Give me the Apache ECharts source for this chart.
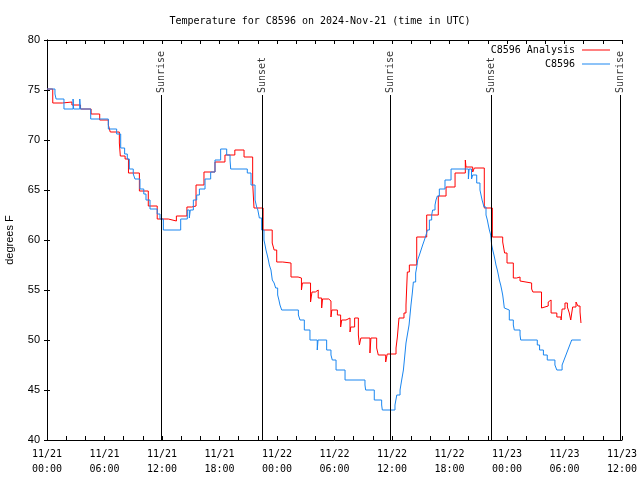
<!DOCTYPE html>
<html>
<head>
<meta charset="utf-8">
<script src="https://cdn.jsdelivr.net/npm/echarts@6/dist/echarts.min.js"></script>
<style>html,body{margin:0;padding:0;background:#fff}#c{width:640px;height:480px}</style>
</head>
<body>
<div id="c"></div>
<script>
// hours since 11/21 00:00 UTC
const xTickLabels = ['11/21\n00:00','11/21\n06:00','11/21\n12:00','11/21\n18:00','11/22\n00:00','11/22\n06:00','11/22\n12:00','11/22\n18:00','11/23\n00:00','11/23\n06:00','11/23\n12:00'];
const yTicks = [40,45,50,55,60,65,70,75,80];
const sunLabels = ['Sunrise','Sunset','Sunrise','Sunset','Sunrise'];
const sunHours = [11.9, 22.43, 35.79, 46.33, 59.79];

const analysisHours = [0,0.6,1.6,2.6,3.5,4.6,5.5,6.4,6.6,7.55,7.65,8.15,8.5,9.64,10.57,11.5,12.66,13.5,14.6,15.1,15.55,16.38,17.53,18.57,19.6,20.56,21.46,21.6,22.55,23.5,23.7,23.97,24.6,25.46,26.2,26.55,26.65,27.5,27.65,28.0,28.3,28.66,28.75,29.4,29.63,29.72,30.3,30.64,30.75,31.2,31.62,31.7,32.1,32.49,32.6,32.75,33.7,33.8,34.4,34.57,35.34,35.5,36.42,36.56,36.73,37.25,37.46,37.6,37.81,38.58,39.62,40.83,41.64,42.58,43.65,43.72,44.42,44.59,45.63,46.47,47.55,47.75,48.0,48.66,49.0,49.36,49.5,50.57,50.7,51.6,51.7,52.3,52.5,52.6,53.2,53.64,53.75,54.05,54.3,54.5,54.65,54.85,55.2,55.4,55.62,55.72,55.75];
const analysisTemps = [75.1,73.7,73.8,73.5,73.1,72.6,72.0,71.5,70.8,69.7,68.4,68.1,66.7,64.9,63.4,62.1,61.9,62.4,63.3,63.4,65.5,66.8,67.8,68.5,69.0,68.3,65.7,63.2,61.0,59.7,59.0,57.8,57.7,56.3,56.2,55.0,55.7,53.8,54.8,55.0,54.2,53.2,54.1,53.9,52.3,53.0,52.5,51.3,52.0,52.2,50.8,51.3,52.2,50.5,49.5,50.2,48.7,50.2,49.2,48.5,47.8,48.6,49.2,50.3,52.2,52.7,53.5,56.8,57.5,60.3,62.5,64.4,65.3,66.7,68.0,67.3,66.8,67.2,63.2,60.3,59.8,58.7,57.7,56.2,56.3,55.9,55.7,55.1,54.8,53.2,53.4,53.8,54.0,52.7,52.3,52.0,53.1,53.7,53.3,52.7,52.0,53.3,53.8,53.4,52.8,51.7,51.7];

const stationHours = [0,0.83,0.95,1.77,2.72,2.78,3.42,3.48,4.56,6.4,7.27,7.69,8.1,8.38,8.59,9.0,9.18,9.7,10.1,10.33,10.75,11.5,11.79,12.14,13.95,14.64,14.85,14.95,15.27,15.62,15.9,16.49,17.08,17.53,18.12,18.75,19.1,19.17,20.9,21.29,21.71,21.88,22.0,22.16,22.4,22.64,22.75,22.85,22.98,23.1,23.2,23.37,23.51,23.7,23.86,24.07,24.2,24.31,24.49,26.23,26.4,26.85,27.44,28.2,28.28,29.18,29.63,29.77,30.16,31.1,33.18,33.25,34.15,34.92,34.99,36.31,36.5,36.84,37.01,37.19,37.29,37.46,37.6,37.78,37.88,37.98,38.12,38.23,38.47,38.58,38.68,38.86,39.03,39.2,39.38,39.55,39.69,39.9,40.14,40.24,40.49,40.59,40.73,40.94,41.53,42.16,43.97,44.05,44.3,44.42,44.84,45.18,45.29,45.4,45.6,45.81,45.95,46.05,46.16,46.3,46.4,46.51,46.64,46.75,46.85,46.99,47.1,47.2,47.34,47.45,47.55,47.62,47.72,47.9,48.24,48.66,48.76,49.36,49.43,51.16,51.4,51.8,52.2,53.0,53.2,53.75,53.95,54.15,54.35,54.55,54.75,55.7];
const stationTemps = [75.1,74.6,74.1,73.1,74.1,73.1,74.1,73.1,72.1,71.1,70.6,69.2,68.6,68.1,67.1,66.6,66.1,65.1,64.6,64.0,63.1,62.6,62.1,61.0,62.1,63.0,62.2,63.0,64.0,64.5,65.1,66.1,66.8,68.0,69.1,68.5,68.0,67.1,66.7,65.5,64.0,63.3,63.0,62.2,61.0,60.0,59.5,59.0,58.5,58.0,57.5,57.0,56.0,55.7,55.2,54.5,54.0,53.5,53.0,52.5,52.0,51.0,50.0,49.0,50.0,49.0,48.5,48.0,47.0,46.0,45.5,45.0,44.0,43.5,43.0,43.5,44.5,45.0,46.0,47.0,48.0,49.7,50.5,51.5,52.5,53.5,54.7,55.8,56.7,57.3,58.0,58.5,59.0,59.5,60.0,60.5,61.0,62.0,62.5,63.0,63.5,64.0,64.4,65.1,66.0,67.1,66.1,67.1,66.1,66.5,65.7,65.0,64.5,64.0,63.3,62.5,62.0,61.5,61.0,60.5,59.5,59.0,58.5,58.0,57.5,57.0,56.5,56.0,55.5,55.0,54.5,54.0,53.2,53.0,52.0,51.5,51.0,50.5,50.0,49.5,49.0,48.5,48.0,47.5,47.0,47.5,48.0,48.5,49.0,49.5,50.0,50.0];

const mono = 'DejaVu Sans Mono';
const sans = 'Liberation Sans';
const chart = echarts.init(document.getElementById('c'), null, {renderer: 'canvas'});
const zip = (a, b) => a.map((v, i) => [v, b[i]]);

const axisLineStyle = {color: '#000', width: 1};
chart.setOption({
  animation: false,
  backgroundColor: '#fff',
  title: {
    text: 'Temperature for C8596 on 2024-Nov-21 (time in UTC)',
    left: 'center', top: 11,
    textStyle: {fontFamily: mono, fontSize: 10, fontWeight: 'normal', color: '#000'}
  },
  legend: [
    {data: ['C8596 Analysis'], right: 30, top: 45, padding: 0, icon: 'rect', itemWidth: 28, itemHeight: 1, align: 'right',
     textStyle: {fontFamily: mono, fontSize: 10, color: '#000', padding: [0, 2, 0, 0]}, selectedMode: false},
    {data: ['C8596'], right: 30, top: 59, padding: 0, icon: 'rect', itemWidth: 28, itemHeight: 1, align: 'right',
     textStyle: {fontFamily: mono, fontSize: 10, color: '#000', padding: [0, 2, 0, 0]}, selectedMode: false}
  ],
  grid: {left: 47, right: 18, top: 40, bottom: 40, containLabel: false, outerBoundsMode: 'none'},
  xAxis: [
    {type: 'value', min: 0, max: 60, interval: 6, position: 'bottom',
     axisLine: {show: true, lineStyle: axisLineStyle},
     axisTick: {show: true, inside: true, length: 4, lineStyle: {color: '#000'}},
     minorTick: {show: true, splitNumber: 3, length: 4, lineStyle: {color: '#000'}},
     splitLine: {show: false},
     axisLabel: {formatter: v => xTickLabels[Math.round(v / 6)], fontFamily: mono, fontSize: 10, color: '#000', lineHeight: 15, margin: 7}},
    {type: 'value', min: 0, max: 60, interval: 6, position: 'top',
     axisLine: {show: true, lineStyle: axisLineStyle},
     axisTick: {show: true, inside: true, length: 4, lineStyle: {color: '#000'}},
     minorTick: {show: true, splitNumber: 3, length: 4, lineStyle: {color: '#000'}},
     splitLine: {show: false}, axisLabel: {show: false}}
  ],
  yAxis: [
    {type: 'value', min: 40, max: 80, interval: 5, position: 'left',
     name: 'degrees F', nameLocation: 'middle', nameGap: 32, nameRotate: 90,
     nameTextStyle: {fontFamily: sans, fontSize: 11, color: '#000'},
     axisLine: {show: true, lineStyle: axisLineStyle},
     axisTick: {show: true, inside: true, length: 3, lineStyle: {color: '#000'}},
     splitLine: {show: false},
     axisLabel: {formatter: v => yTicks.includes(v) ? String(v) : '', fontFamily: sans, fontSize: 11, color: '#000', margin: 7}},
    {type: 'value', min: 40, max: 80, interval: 5, position: 'right',
     axisLine: {show: true, lineStyle: axisLineStyle},
     axisTick: {show: true, inside: true, length: 3, lineStyle: {color: '#000'}},
     splitLine: {show: false}, axisLabel: {show: false}}
  ],
  series: [
    {name: 'C8596 Analysis', type: 'line', step: 'end', data: zip(analysisHours, analysisTemps),
     showSymbol: false, symbol: 'none', color: '#ff0000', lineStyle: {width: 1, color: '#ff0000'}, z: 3},
    {name: 'C8596', type: 'line', step: 'end', data: zip(stationHours, stationTemps),
     showSymbol: false, symbol: 'none', color: '#1a86f0', lineStyle: {width: 1, color: '#1a86f0'}, z: 4},
    {name: 'sun', type: 'scatter', symbolSize: 0, z: 5,
     data: sunHours.map(h => [h, 74.6]),
     label: {show: true, position: 'top', distance: 1, rotate: 90, align: 'left', verticalAlign: 'middle',
       formatter: p => sunLabels[p.dataIndex], fontFamily: mono, fontSize: 10, color: '#000'},
     labelLayout: {hideOverlap: false},
     markLine: {silent: true, symbol: ['none', 'none'], label: {show: false},
       lineStyle: {color: '#000', width: 1, type: 'solid'},
       data: sunHours.map(h => [{coord: [h, 40]}, {coord: [h, 74.5]}])}}
  ]
});
</script>
</body>
</html>
